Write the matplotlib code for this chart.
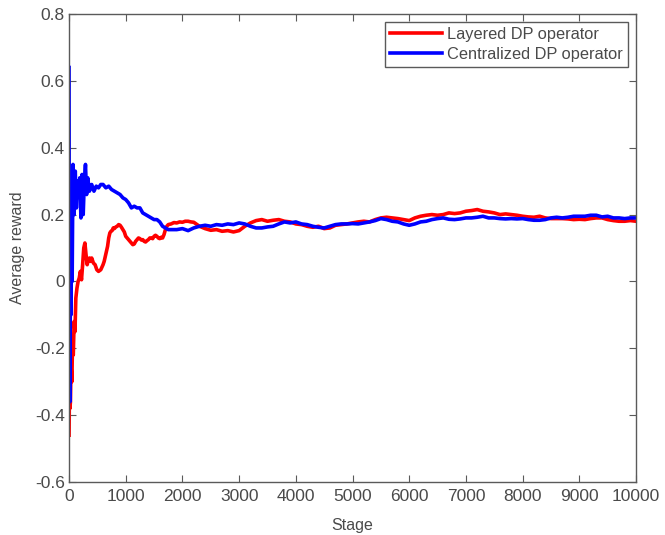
import matplotlib
matplotlib.use("Agg")
import matplotlib.pyplot as plt

# Layered DP operator (red)
layered_stage = [1, 8, 15, 25, 35, 50, 60, 75, 90, 105, 120, 140, 160, 180, 200, 220, 240, 260, 280, 300,
                 320, 340, 360, 380, 400, 430, 460, 490, 520, 560, 600, 620, 640, 660, 680, 700, 720, 740, 760, 780,
                 800, 825, 850, 875, 900, 925, 950, 975, 1000, 1025, 1050, 1075, 1100, 1125, 1150, 1175, 1200, 1225, 1250, 1275,
                 1300, 1325, 1350, 1375, 1400, 1425, 1450, 1475, 1500, 1525, 1550, 1575, 1600, 1625, 1650, 1675, 1700, 1725, 1750, 1800,
                 1850, 1900, 1950, 2000, 2050, 2100, 2150, 2200, 2300, 2400, 2500, 2600, 2700, 2800, 2900, 3000, 3100, 3200, 3300, 3400,
                 3500, 3600, 3700, 3800, 3900, 4000, 4100, 4200, 4300, 4400, 4500, 4600, 4700, 4800, 4900, 5000, 5100, 5200, 5300, 5400,
                 5500, 5600, 5700, 5800, 5900, 6000, 6100, 6200, 6300, 6400, 6500, 6600, 6700, 6800, 6900, 7000, 7100, 7200, 7300, 7400,
                 7500, 7600, 7700, 7800, 7900, 8000, 8100, 8200, 8300, 8400, 8500, 8600, 8700, 8800, 8900, 9000, 9100, 9200, 9300, 9400,
                 9500, 9600, 9700, 9800, 9900, 10000]
layered_reward = [-0.46, -0.30, -0.38, -0.36, -0.25, -0.30, -0.20, -0.22, -0.12, -0.15, -0.05, -0.02, 0.00, 0.01, 0.03, 0.005, 0.05, 0.10, 0.115, 0.08,
                  0.05, 0.065, 0.07, 0.06, 0.07, 0.055, 0.05, 0.035, 0.03, 0.035, 0.05, 0.06, 0.075, 0.09, 0.105, 0.13, 0.145, 0.15, 0.152, 0.16,
                  0.158, 0.163, 0.165, 0.17, 0.168, 0.162, 0.155, 0.148, 0.135, 0.13, 0.125, 0.12, 0.115, 0.11, 0.112, 0.12, 0.125, 0.13, 0.128, 0.124,
                  0.125, 0.12, 0.118, 0.122, 0.125, 0.13, 0.13, 0.128, 0.135, 0.138, 0.135, 0.13, 0.128, 0.132, 0.13, 0.14, 0.155, 0.165, 0.17, 0.172,
                  0.176, 0.175, 0.178, 0.177, 0.18, 0.18, 0.178, 0.177, 0.165, 0.158, 0.153, 0.155, 0.15, 0.152, 0.148, 0.152, 0.165, 0.175, 0.182, 0.185,
                  0.18, 0.183, 0.185, 0.18, 0.178, 0.172, 0.17, 0.165, 0.162, 0.165, 0.158, 0.16, 0.168, 0.17, 0.172, 0.175, 0.178, 0.18, 0.178, 0.185,
                  0.19, 0.192, 0.19, 0.188, 0.185, 0.182, 0.19, 0.195, 0.198, 0.20, 0.198, 0.20, 0.205, 0.203, 0.205, 0.21, 0.212, 0.215, 0.21, 0.208,
                  0.205, 0.20, 0.202, 0.20, 0.198, 0.195, 0.193, 0.192, 0.195, 0.19, 0.188, 0.188, 0.188, 0.187, 0.185, 0.186, 0.185, 0.188, 0.19, 0.19,
                  0.185, 0.182, 0.18, 0.18, 0.182, 0.18]

# Centralized DP operator (blue)
central_stage = [1, 5, 10, 15, 25, 35, 45, 55, 70, 90, 110, 130, 150, 170, 190, 210, 230, 250, 270, 290,
                 310, 330, 360, 400, 440, 480, 520, 560, 600, 650, 700, 750, 800, 850, 900, 950, 1000, 1050, 1100, 1150,
                 1200, 1250, 1300, 1350, 1400, 1450, 1500, 1550, 1600, 1650, 1700, 1750, 1800, 1900, 2000, 2100, 2200, 2300, 2400, 2500,
                 2600, 2700, 2800, 2900, 3000, 3100, 3200, 3300, 3400, 3500, 3600, 3700, 3800, 3900, 4000, 4100, 4200, 4300, 4400, 4500,
                 4600, 4700, 4800, 4900, 5000, 5100, 5200, 5300, 5400, 5500, 5600, 5700, 5800, 5900, 6000, 6100, 6200, 6300, 6400, 6500,
                 6600, 6700, 6800, 6900, 7000, 7100, 7200, 7300, 7400, 7500, 7600, 7700, 7800, 7900, 8000, 8100, 8200, 8300, 8400, 8500,
                 8600, 8700, 8800, 8900, 9000, 9100, 9200, 9300, 9400, 9500, 9600, 9700, 9800, 9900, 10000]
central_reward = [0.64, -0.15, 0.10, -0.36, 0.05, -0.10, 0.20, 0.00, 0.35, 0.20, 0.33, 0.22, 0.30, 0.27, 0.31, 0.19, 0.32, 0.20, 0.30, 0.35,
                  0.26, 0.31, 0.27, 0.29, 0.27, 0.285, 0.28, 0.29, 0.29, 0.28, 0.285, 0.275, 0.27, 0.265, 0.26, 0.25, 0.245, 0.235, 0.22, 0.225,
                  0.22, 0.22, 0.205, 0.20, 0.195, 0.19, 0.185, 0.185, 0.178, 0.165, 0.16, 0.155, 0.155, 0.155, 0.158, 0.152, 0.16, 0.165, 0.168, 0.165,
                  0.17, 0.168, 0.172, 0.17, 0.175, 0.172, 0.165, 0.16, 0.16, 0.163, 0.165, 0.172, 0.178, 0.175, 0.178, 0.172, 0.17, 0.165, 0.162, 0.16,
                  0.165, 0.17, 0.172, 0.172, 0.173, 0.172, 0.175, 0.178, 0.182, 0.188, 0.185, 0.18, 0.178, 0.172, 0.168, 0.172, 0.178, 0.18, 0.185, 0.188,
                  0.19, 0.186, 0.185, 0.187, 0.19, 0.19, 0.192, 0.195, 0.19, 0.19, 0.188, 0.187, 0.188, 0.187, 0.188, 0.185, 0.183, 0.183, 0.185, 0.19,
                  0.192, 0.19, 0.192, 0.195, 0.195, 0.195, 0.198, 0.198, 0.193, 0.195, 0.19, 0.19, 0.188, 0.19, 0.19]

plt.rcParams['font.family'] = ['Liberation Sans', 'DejaVu Sans']
text_col = '#4a4a4a'
axis_col = '#5a5a5a'

fig = plt.figure(figsize=(6.65, 5.35), dpi=100)
ax = fig.add_axes([0.1038, 0.0991, 0.8526, 0.8747])

ax.plot(layered_stage, layered_reward, color='#ff0000', linewidth=2.6, label='Layered DP operator')
ax.plot(central_stage, central_reward, color='#0000ff', linewidth=2.6, label='Centralized DP operator')

ax.set_xlim(0, 10000)
ax.set_ylim(-0.6, 0.8)
ax.set_xticks(range(0, 10001, 1000))
ax.set_yticks([-0.6, -0.4, -0.2, 0, 0.2, 0.4, 0.6, 0.8])
ax.set_yticklabels(['-0.6', '-0.4', '-0.2', '0', '0.2', '0.4', '0.6', '0.8'])

ax.tick_params(direction='in', top=True, right=True, length=5, width=0.8,
               colors=axis_col, labelcolor=text_col, labelsize=12.5, pad=3)
ax.tick_params(axis='x', pad=5)
for s in ax.spines.values():
    s.set_color(axis_col)
    s.set_linewidth(1.0)

ax.set_xlabel('Stage', fontsize=11.5, color=text_col, labelpad=10)
ax.set_ylabel('Average reward', fontsize=11.5, color=text_col, labelpad=7)

leg = ax.legend(loc='upper right', fontsize=11.8, handlelength=3.2, handletextpad=0.3,
                borderpad=0.3, labelspacing=0.3, fancybox=False, framealpha=1,
                borderaxespad=0.5)
leg.get_frame().set_edgecolor(axis_col)
leg.get_frame().set_linewidth(1.0)
for t in leg.get_texts():
    t.set_color(text_col)

fig.savefig('out.png', dpi=100)
